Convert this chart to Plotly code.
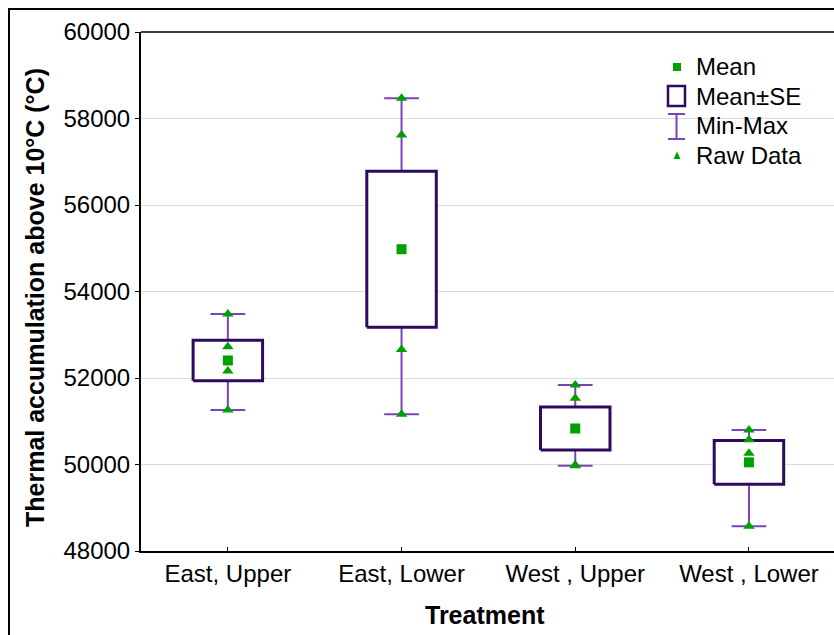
import numpy as np
import plotly.graph_objects as go

# Treatment groups and raw thermal accumulation values (degree-days above 10 °C)
categories = ["East, Upper", "East, Lower", "West , Upper", "West , Lower"]
east_upper = [53480, 52720, 52160, 51260]
east_lower = [58470, 57620, 52660, 51160]
west_upper = [51840, 51530, 49990, 49970]
west_lower = [50800, 50570, 50260, 48570]
groups = [east_upper, east_lower, west_upper, west_lower]

y_ticks = [48000, 50000, 52000, 54000, 56000, 58000, 60000]

GREEN = "#00a000"
BOX = "#2e0a5e"
WHISK = "#7a44b8"
FONT = "Liberation Sans, Arial, sans-serif"

W, H = 834, 635
L, T, B = 141, 32, 84
PW, PH = W - L, H - T - B

# summary statistics per group
means = [float(np.mean(g)) for g in groups]
ses = [float(np.std(g, ddof=1) / np.sqrt(len(g))) for g in groups]
mins = [min(g) for g in groups]
maxs = [max(g) for g in groups]

box_half = 0.2
cap_half = 0.1

fig = go.Figure()

# whiskers (min-max) with caps
wx, wy = [], []
for i in range(len(groups)):
    wx += [i, i, None, i - cap_half, i + cap_half, None, i - cap_half, i + cap_half, None]
    wy += [mins[i], maxs[i], None, mins[i], mins[i], None, maxs[i], maxs[i], None]
fig.add_trace(go.Scatter(x=wx, y=wy, mode="lines", line=dict(color=WHISK, width=2),
                         hoverinfo="skip", showlegend=False))

# mean ± SE boxes
for i in range(len(groups)):
    lo, hi = means[i] - ses[i], means[i] + ses[i]
    fig.add_trace(go.Scatter(
        x=[i - box_half, i + box_half, i + box_half, i - box_half, i - box_half],
        y=[lo, lo, hi, hi, lo], mode="lines", fill="toself", fillcolor="white",
        line=dict(color=BOX, width=3), hoverinfo="skip", showlegend=False))

# raw observations
rx, ry = [], []
for i, g in enumerate(groups):
    rx += [i] * len(g)
    ry += g
fig.add_trace(go.Scatter(x=rx, y=ry, mode="markers",
                         marker=dict(symbol="triangle-up", size=10, color=GREEN, line=dict(width=0)),
                         showlegend=False))

# group means
fig.add_trace(go.Scatter(x=list(range(len(groups))), y=means, mode="markers",
                         marker=dict(symbol="square", size=10, color=GREEN, line=dict(width=0)),
                         showlegend=False))


def px(p):
    return (p - L) / PW


def py(p):
    return (T + PH - p) / PH


shapes = [
    # outer frame
    dict(type="rect", xref="paper", yref="paper", x0=px(9), x1=px(W + 40), y0=py(9), y1=py(H + 40),
         line=dict(color="black", width=2), layer="above"),
    # top border of plot
    dict(type="line", xref="paper", yref="paper", x0=0, x1=px(W + 40), y0=1, y1=1,
         line=dict(color="black", width=1.5)),
    # legend: Mean
    dict(type="rect", xref="paper", yref="paper", x0=px(673), x1=px(681), y0=py(71), y1=py(63),
         fillcolor=GREEN, line=dict(width=0)),
    # legend: Mean±SE
    dict(type="rect", xref="paper", yref="paper", x0=px(668), x1=px(685), y0=py(106), y1=py(86),
         fillcolor="white", line=dict(color=BOX, width=2.5)),
    # legend: Min-Max
    dict(type="line", xref="paper", yref="paper", x0=px(676.5), x1=px(676.5), y0=py(114), y1=py(139),
         line=dict(color=WHISK, width=2)),
    dict(type="line", xref="paper", yref="paper", x0=px(668), x1=px(685), y0=py(114), y1=py(114),
         line=dict(color=WHISK, width=2)),
    dict(type="line", xref="paper", yref="paper", x0=px(668), x1=px(685), y0=py(139), y1=py(139),
         line=dict(color=WHISK, width=2)),
    # legend: Raw Data
    dict(type="path", xref="paper", yref="paper",
         path=f"M {px(673.5)} {py(159)} L {px(680.5)} {py(159)} L {px(677)} {py(151.5)} Z",
         fillcolor=GREEN, line=dict(width=0)),
]

legend_items = [("Mean", 67), ("Mean±SE", 96), ("Min-Max", 126), ("Raw Data", 155)]
annotations = [
    dict(text=txt, xref="paper", yref="paper", x=px(694), y=py(yc), xanchor="left", yanchor="middle",
         showarrow=False, font=dict(family=FONT, size=24, color="black"))
    for txt, yc in legend_items
]
annotations += [
    dict(text="<b>Thermal accumulation above 10°C (°C)</b>", xref="paper", yref="paper",
         x=px(35), y=py(298), textangle=-90, xanchor="center", yanchor="middle", showarrow=False,
         font=dict(family=FONT, size=25, color="black")),
    dict(text="<b>Treatment</b>", xref="paper", yref="paper", x=px(485), y=py(615),
         xanchor="center", yanchor="middle", showarrow=False,
         font=dict(family=FONT, size=25, color="black")),
]

fig.update_layout(
    width=W, height=H,
    margin=dict(l=L, r=0, t=T, b=B),
    paper_bgcolor="white", plot_bgcolor="white",
    showlegend=False,
    shapes=shapes, annotations=annotations,
    font=dict(family=FONT, size=24, color="black"),
    xaxis=dict(range=[-0.5, (W - L) / 173.7 - 0.5], tickvals=list(range(len(categories))),
               ticktext=categories, showgrid=False, zeroline=False,
               showline=True, linecolor="black", linewidth=2,
               ticks="inside", ticklen=4, tickcolor="black",
               tickfont=dict(family=FONT, size=24, color="black")),
    yaxis=dict(range=[48000, 60000], tickvals=y_ticks, tickformat="d", showgrid=True,
               gridcolor="#dcdcdc", gridwidth=1, zeroline=False, showline=True,
               linecolor="black", linewidth=2, ticks="outside", ticklen=4, tickcolor="black",
               tickfont=dict(family=FONT, size=24, color="black")),
)

fig.write_html("out.html")
